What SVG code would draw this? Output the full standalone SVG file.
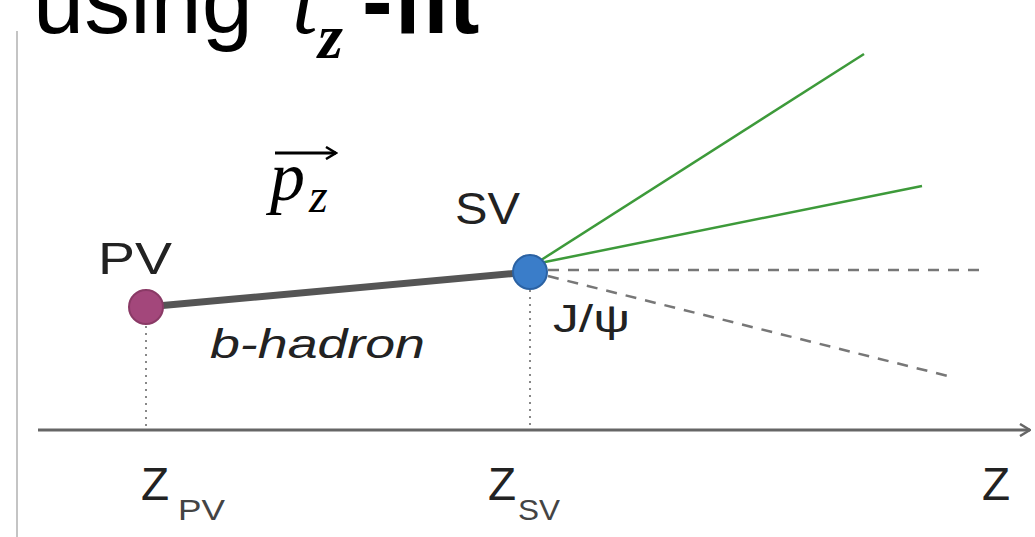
<svg xmlns="http://www.w3.org/2000/svg" width="1035" height="537" viewBox="0 0 1035 537">
<style>
.sans{font-family:"Liberation Sans",Arial,sans-serif;fill:#222}
.serif{font-family:"Liberation Serif","Times New Roman",serif;fill:#000}
.dot{stroke:#888;stroke-width:2;stroke-dasharray:2 5;fill:none}
.dash{stroke:#777;stroke-width:2.5;stroke-dasharray:11 9;fill:none}
.green{stroke:#3d9a3a;stroke-width:2.5;fill:none}
</style>
<defs>
<marker id="ah" markerWidth="12" markerHeight="14" refX="11" refY="7" orient="auto" markerUnits="userSpaceOnUse">
<path d="M1,1 L11,7 L1,13" fill="none" stroke="#666" stroke-width="2.5"/>
</marker>
<marker id="vh" markerWidth="14" markerHeight="14" refX="12" refY="7" orient="auto" markerUnits="userSpaceOnUse">
<path d="M2,1 L12,7 L2,13" fill="none" stroke="#000" stroke-width="2.5"/>
</marker>
</defs>
<rect width="1035" height="537" fill="#fff"/>
<g id="title">
<text x="33" y="33" class="sans" font-size="92" style="fill:#000">using</text>
<text x="292" y="33" class="serif" font-size="92" font-style="italic">t</text>
<text x="318" y="58" class="serif" font-size="64" font-style="italic" font-weight="bold">z</text>
<text x="362" y="33" class="sans" font-size="92" font-weight="bold" style="fill:#000">-fit</text>
</g>
<line id="sidebar" x1="17" y1="31" x2="17" y2="537" stroke="#c4c4c4" stroke-width="2"/>
<g id="connectors">
<line x1="38" y1="430" x2="1030" y2="430" stroke="#666" stroke-width="3" marker-end="url(#ah)"/>
<line class="dot" x1="146" y1="326" x2="146" y2="428"/>
<line class="dot" x1="530" y1="290" x2="530" y2="428"/>
<line x1="146" y1="307" x2="530" y2="272" stroke="#555" stroke-width="7"/>
<line class="green" x1="538" y1="262" x2="864" y2="54"/>
<line class="green" x1="540" y1="263" x2="922" y2="186"/>
<line class="dash" x1="548" y1="270" x2="986" y2="270"/>
<line class="dash" x1="548" y1="276" x2="948" y2="376"/>
</g>
<g id="pv">
<circle cx="146" cy="307" r="17" fill="#a3477b" stroke="#8a3a66" stroke-width="2"/>
<text x="98" y="274" class="sans" font-size="44" textLength="74" lengthAdjust="spacingAndGlyphs">PV</text>
</g>
<g id="sv">
<circle cx="530" cy="272" r="17" fill="#3a7dc9" stroke="#2b62a3" stroke-width="2"/>
<text x="455" y="224" class="sans" font-size="44" textLength="65" lengthAdjust="spacingAndGlyphs">SV</text>
</g>
<g id="bhadron">
<text x="210" y="358" class="sans" font-size="41" font-style="italic" textLength="215" lengthAdjust="spacingAndGlyphs">b-hadron</text>
</g>
<g id="jpsi">
<text x="553" y="332" class="sans" font-size="38" textLength="77" lengthAdjust="spacingAndGlyphs">J/ψ</text>
</g>
<g id="pz">
<text x="270" y="200" class="serif" font-size="70" font-style="italic">p</text>
<text x="309" y="212" class="serif" font-size="48" font-style="italic">z</text>
<line x1="275" y1="153" x2="336" y2="153" stroke="#000" stroke-width="3" marker-end="url(#vh)"/>
</g>
<g id="axislabels">
<text x="141" y="500" class="sans" font-size="46">Z</text>
<text x="178" y="520" class="sans" font-size="30" textLength="47" lengthAdjust="spacingAndGlyphs" style="fill:#444">PV</text>
<text x="488" y="500" class="sans" font-size="46">Z</text>
<text x="518" y="520" class="sans" font-size="30" textLength="42" lengthAdjust="spacingAndGlyphs" style="fill:#444">SV</text>
<text x="982" y="500" class="sans" font-size="46">Z</text>
</g>
</svg>
